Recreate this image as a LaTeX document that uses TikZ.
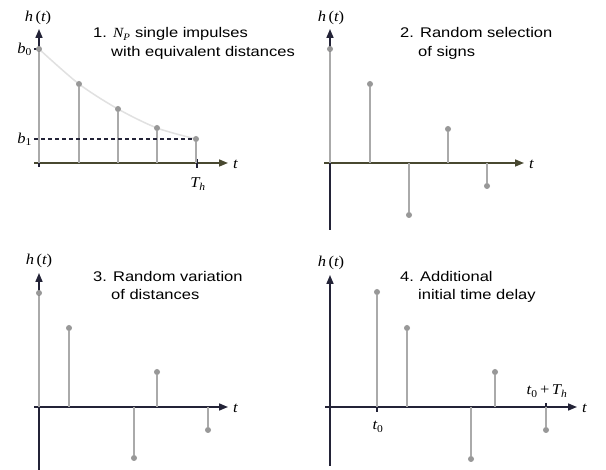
\documentclass[tikz,border=0pt]{standalone}
\usepackage{fontspec}
\setmainfont[FakeStretch=1.18]{Liberation Sans}
\newfontfamily\lserif[FakeStretch=1.1]{Liberation Serif}
\usetikzlibrary{arrows.meta}
\definecolor{axol}{RGB}{72,72,48}
\definecolor{axdk}{RGB}{35,35,55}
\definecolor{stemc}{RGB}{170,170,170}
\definecolor{dotc}{RGB}{152,152,152}
\definecolor{curvec}{RGB}{225,225,225}
\newcommand{\vi}[1]{{\lserif\itshape #1}}
\newcommand{\htlab}{\vi{h}\,{\lserif(}\vi{t}{\lserif)}}
\newcommand{\imp}[4]{%
  \node[tip] (#1) at (#2,#3) {};
  \coordinate (#1b) at (#2,#4);
  \draw[stem] (#1b) -- (#1);}
\begin{document}
\begin{tikzpicture}[x=1pt,y=-1pt,
  axis/.style={line width=1.6pt,-{Triangle[length=9pt,width=7pt]}},
  stem/.style={line width=1.8pt,stemc},
  tip/.style={circle,fill=dotc,inner sep=0pt,minimum size=6pt},
  txt/.style={font=\fontsize{14}{17}\selectfont,anchor=base west,inner sep=0pt},
  lab/.style={font=\fontsize{15}{17}\selectfont,inner sep=0pt},
  tickl/.style={line width=1.4pt}]
\useasboundingbox[fill=white] (0,0) rectangle (606,470);

% ---------- Panel 1 ----------
\coordinate (x1s) at (34,163); \coordinate (x1e) at (228,163);
\coordinate (y1s) at (39,167); \coordinate (y1e) at (39,29);
\draw[axis,axol] (x1s) -- (x1e);
\draw[axis,axdk] (y1s) -- (y1e);
\draw[curvec,line width=1.5pt] plot[smooth] coordinates {(39,49) (79,84) (118,109) (157,128) (196,139)};
\coordinate (b0t) at (34,49); \coordinate (b0a) at (39,49);
\coordinate (b1t) at (34,139); \coordinate (b1a) at (39,139);
\draw[tickl,axdk] (b0t) -- (b0a);
\coordinate (th1) at (197,159); \coordinate (th2) at (197,168);
\draw[tickl,axdk] (th1) -- (th2);
\imp{p11}{39}{49}{163}
\imp{p12}{79}{84}{163}
\imp{p13}{118}{109}{163}
\imp{p14}{157}{128}{163}
\imp{p15}{196}{139}{163}
\draw[axdk,line width=1.3pt,dash pattern=on 4pt off 3pt] (b1t) -- (p15);
\node[lab,anchor=base] (h1) at (38,22) {\htlab};
\node[lab,anchor=east] (b0l) at (32,49) {\vi{b}\textsubscript{\lserif 0}};
\node[lab,anchor=east] (b1l) at (32,139) {\vi{b}\textsubscript{\lserif 1}};
\node[lab,anchor=west] (t1) at (233,164) {\vi{t}};
\node[lab,anchor=base] (thl) at (198,188) {\vi{T}\textsubscript{\vi{h}}};
\node[txt] (c1a) at (93,38) {1. \vi{N}\textsubscript{\vi{P}} single impulses};
\node[txt] (c1b) at (111,57) {with equivalent distances};

% ---------- Panel 2 ----------
\coordinate (x2s) at (324,163); \coordinate (x2e) at (524,163);
\coordinate (y2s) at (330,230); \coordinate (y2e) at (330,29);
\draw[axis,axol] (x2s) -- (x2e);
\draw[axis,axdk] (y2s) -- (y2e);
\imp{p21}{330}{49}{163}
\imp{p22}{370}{84}{163}
\imp{p23}{409}{215}{163}
\imp{p24}{448}{129}{163}
\imp{p25}{487}{186}{163}
\node[lab,anchor=base] (h2) at (331,22) {\htlab};
\node[lab,anchor=west] (t2) at (529,164) {\vi{t}};
\node[txt] (c2a) at (400,38) {2. Random selection};
\node[txt] (c2b) at (418,57) {of signs};

% ---------- Panel 3 ----------
\coordinate (x3s) at (34,407); \coordinate (x3e) at (228,407);
\coordinate (y3s) at (39,470); \coordinate (y3e) at (39,273);
\draw[axis,axdk] (x3s) -- (x3e);
\draw[axis,axdk] (y3s) -- (y3e);
\imp{p31}{39}{293}{407}
\imp{p32}{69}{328}{407}
\imp{p33}{134}{458}{407}
\imp{p34}{157}{372}{407}
\imp{p35}{208}{430}{407}
\node[lab,anchor=base] (h3) at (39,265) {\htlab};
\node[lab,anchor=west] (t3) at (233,408) {\vi{t}};
\node[txt] (c3a) at (93,282) {3. Random variation};
\node[txt] (c3b) at (111,300) {of distances};

% ---------- Panel 4 ----------
\coordinate (x4s) at (325,407); \coordinate (x4e) at (577,407);
\coordinate (y4s) at (330,466); \coordinate (y4e) at (330,275);
\draw[axis,axdk] (x4s) -- (x4e);
\draw[axis,axdk] (y4s) -- (y4e);
\coordinate (t0a) at (377,403); \coordinate (t0b) at (377,412);
\draw[tickl,axdk] (t0a) -- (t0b);
\coordinate (tha) at (546,403); \coordinate (thb) at (546,411);
\draw[tickl,axdk] (tha) -- (thb);
\imp{p41}{377}{292}{407}
\imp{p42}{407}{328}{407}
\imp{p43}{471}{459}{407}
\imp{p44}{495}{372}{407}
\imp{p45}{546}{430}{407}
\node[lab,anchor=base] (h4) at (331,267) {\htlab};
\node[lab,anchor=west] (t4) at (582,408) {\vi{t}};
\node[lab,anchor=base] (t0l) at (378,430) {\vi{t}\textsubscript{\lserif 0}};
\node[lab,anchor=base] (tphl) at (547,395) {\vi{t}\textsubscript{\lserif 0}\,{\lserif +}\,\vi{T}\textsubscript{\vi{h}}};
\node[txt] (c4a) at (400,282) {4. Additional};
\node[txt] (c4b) at (418,300) {initial time delay};
\end{tikzpicture}
\end{document}
